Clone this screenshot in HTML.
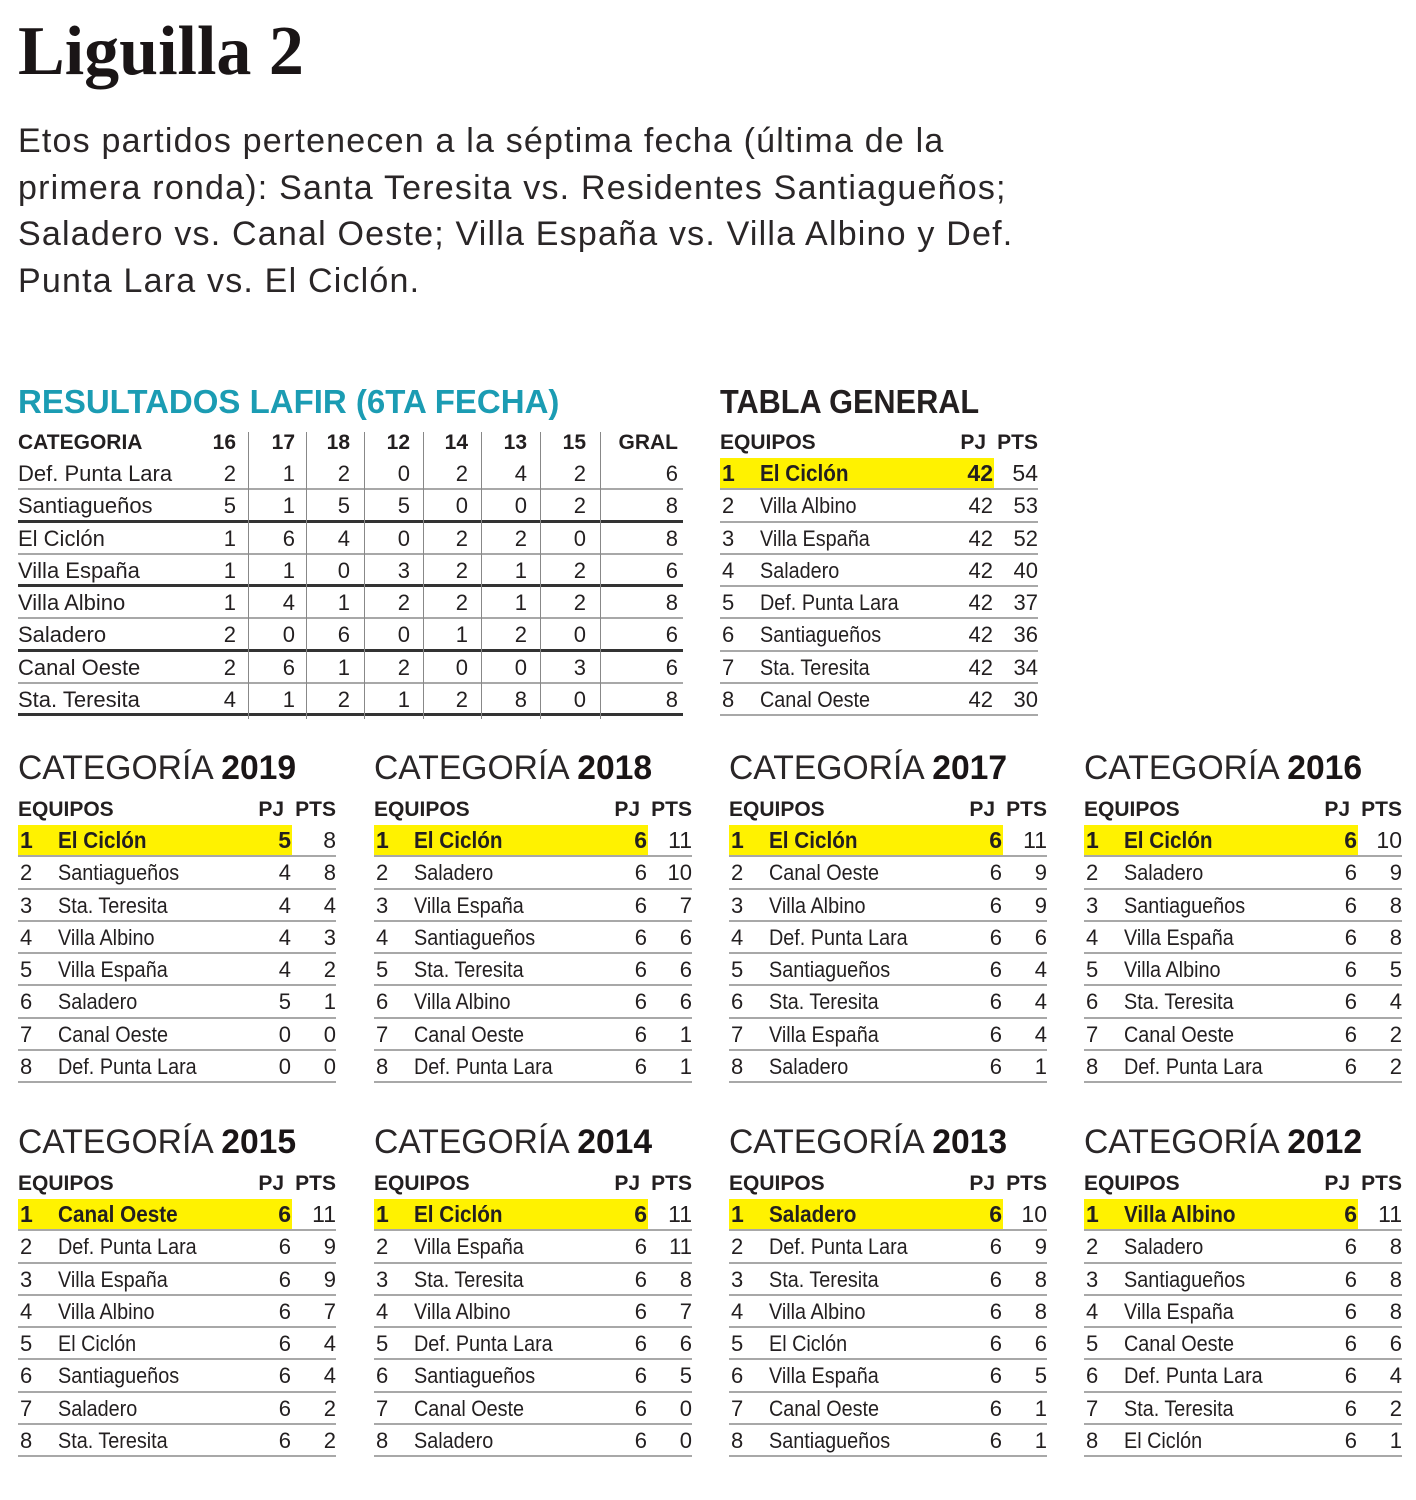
<!DOCTYPE html>
<html><head><meta charset="utf-8">
<style>
body{margin:0;width:1416px;height:1500px;background:#fff;position:relative;overflow:hidden;font-family:"Liberation Sans",sans-serif;color:#231f20}
h1{position:absolute;left:18px;top:12px;margin:0;font-family:"Liberation Serif",serif;font-weight:bold;font-size:70px;letter-spacing:0px;color:#1a1516}
.p{position:absolute;left:18px;top:118px;font-size:34px;line-height:46.5px;letter-spacing:1.2px;color:#2a2627;white-space:nowrap}
.hd{position:absolute;font-weight:bold;font-size:33px;transform-origin:left center;white-space:nowrap;height:40px;line-height:40px}
.blk{position:absolute;width:318px}
.ct{position:absolute;left:0;top:-47px;height:40px;line-height:40px;font-size:34px;white-space:nowrap;transform:scaleX(.99);transform-origin:left center;color:#2a2627}
.ct b{font-weight:bold;color:#1a1516}
.h{position:relative;height:30px;line-height:30px;font-weight:bold;font-size:21px}
.h span,.r span{position:absolute;white-space:nowrap}
.r{position:relative;height:30.3px;line-height:31px;font-size:22px;border-bottom:2px solid #a8a8a8}
.r .n{left:2px}.r .nm{left:40px;transform:scaleX(.9);transform-origin:left center}
.pj{right:45px;text-align:right}.pt{right:0;text-align:right}
.hl{position:absolute;left:0;top:0;bottom:0;width:274px;background:#fff200}
.r.f{font-weight:bold;font-size:23px}
.res .r span{text-align:right}
.sep{position:absolute;width:1px;background:#888;top:432px;height:287px}
</style></head><body>
<h1>Liguilla 2</h1>
<div class="p">Etos partidos pertenecen a la séptima fecha (última de la<br>primera ronda): Santa Teresita vs. Residentes Santiagueños;<br>Saladero vs. Canal Oeste; Villa España vs. Villa Albino y Def.<br>Punta Lara vs. El Ciclón.</div>

<div class="hd" style="left:18px;top:382px;color:#1b9cb3;transform:scaleX(1)">RESULTADOS LAFIR (6TA FECHA)</div>
<div class="hd" style="left:720px;top:382px;transform:scaleX(.93)">TABLA GENERAL</div>

<!-- results -->
<div class="blk res" style="left:18px;top:428px;width:665px">
<div class="h"><span style="left:0">CATEGORIA</span><span style="right:447px">16</span><span style="right:388px">17</span><span style="right:333px">18</span><span style="right:273px">12</span><span style="right:215px">14</span><span style="right:156px">13</span><span style="right:97px">15</span><span style="right:5px">GRAL</span></div>
<div class="r"><span style="left:0">Def. Punta Lara</span><span style="right:447px">2</span><span style="right:388px">1</span><span style="right:333px">2</span><span style="right:273px">0</span><span style="right:215px">2</span><span style="right:156px">4</span><span style="right:97px">2</span><span style="right:5px">6</span></div>
<div class="r" style="border-bottom:3px solid #333;height:29.3px"><span style="left:0">Santiagueños</span><span style="right:447px">5</span><span style="right:388px">1</span><span style="right:333px">5</span><span style="right:273px">5</span><span style="right:215px">0</span><span style="right:156px">0</span><span style="right:97px">2</span><span style="right:5px">8</span></div>
<div class="r"><span style="left:0">El Ciclón</span><span style="right:447px">1</span><span style="right:388px">6</span><span style="right:333px">4</span><span style="right:273px">0</span><span style="right:215px">2</span><span style="right:156px">2</span><span style="right:97px">0</span><span style="right:5px">8</span></div>
<div class="r" style="border-bottom:3px solid #333;height:29.3px"><span style="left:0">Villa España</span><span style="right:447px">1</span><span style="right:388px">1</span><span style="right:333px">0</span><span style="right:273px">3</span><span style="right:215px">2</span><span style="right:156px">1</span><span style="right:97px">2</span><span style="right:5px">6</span></div>
<div class="r"><span style="left:0">Villa Albino</span><span style="right:447px">1</span><span style="right:388px">4</span><span style="right:333px">1</span><span style="right:273px">2</span><span style="right:215px">2</span><span style="right:156px">1</span><span style="right:97px">2</span><span style="right:5px">8</span></div>
<div class="r" style="border-bottom:3px solid #333;height:29.3px"><span style="left:0">Saladero</span><span style="right:447px">2</span><span style="right:388px">0</span><span style="right:333px">6</span><span style="right:273px">0</span><span style="right:215px">1</span><span style="right:156px">2</span><span style="right:97px">0</span><span style="right:5px">6</span></div>
<div class="r"><span style="left:0">Canal Oeste</span><span style="right:447px">2</span><span style="right:388px">6</span><span style="right:333px">1</span><span style="right:273px">2</span><span style="right:215px">0</span><span style="right:156px">0</span><span style="right:97px">3</span><span style="right:5px">6</span></div>
<div class="r" style="border-bottom:3px solid #333;height:29.3px"><span style="left:0">Sta. Teresita</span><span style="right:447px">4</span><span style="right:388px">1</span><span style="right:333px">2</span><span style="right:273px">1</span><span style="right:215px">2</span><span style="right:156px">8</span><span style="right:97px">0</span><span style="right:5px">8</span></div>
</div>
<div class="sep" style="left:248px"></div><div class="sep" style="left:306px"></div><div class="sep" style="left:364px"></div><div class="sep" style="left:423px"></div><div class="sep" style="left:481px"></div><div class="sep" style="left:540px"></div><div class="sep" style="left:600px"></div>

<!-- tabla general -->
<div class="blk" style="left:720px;top:428px">
<div class="h"><span style="left:0">EQUIPOS</span><span class="pj" style="right:52px">PJ</span><span class="pt">PTS</span></div>
<div class="r f"><div class="hl"></div><span class="n">1</span><span class="nm">El Ciclón</span><span class="pj">42</span><span class="pt" style="font-weight:normal">54</span></div>
<div class="r"><span class="n">2</span><span class="nm">Villa Albino</span><span class="pj">42</span><span class="pt">53</span></div>
<div class="r"><span class="n">3</span><span class="nm">Villa España</span><span class="pj">42</span><span class="pt">52</span></div>
<div class="r"><span class="n">4</span><span class="nm">Saladero</span><span class="pj">42</span><span class="pt">40</span></div>
<div class="r"><span class="n">5</span><span class="nm">Def. Punta Lara</span><span class="pj">42</span><span class="pt">37</span></div>
<div class="r"><span class="n">6</span><span class="nm">Santiagueños</span><span class="pj">42</span><span class="pt">36</span></div>
<div class="r"><span class="n">7</span><span class="nm">Sta. Teresita</span><span class="pj">42</span><span class="pt">34</span></div>
<div class="r"><span class="n">8</span><span class="nm">Canal Oeste</span><span class="pj">42</span><span class="pt">30</span></div>
</div>

<!-- 2019 -->
<div class="blk" style="left:18px;top:795px"><div class="ct">CATEGORÍA <b>2019</b></div>
<div class="h"><span style="left:0">EQUIPOS</span><span style="right:52px">PJ</span><span style="right:0">PTS</span></div>
<div class="r f"><div class="hl"></div><span class="n">1</span><span class="nm">El Ciclón</span><span class="pj">5</span><span class="pt" style="font-weight:normal">8</span></div>
<div class="r"><span class="n">2</span><span class="nm">Santiagueños</span><span class="pj">4</span><span class="pt">8</span></div>
<div class="r"><span class="n">3</span><span class="nm">Sta. Teresita</span><span class="pj">4</span><span class="pt">4</span></div>
<div class="r"><span class="n">4</span><span class="nm">Villa Albino</span><span class="pj">4</span><span class="pt">3</span></div>
<div class="r"><span class="n">5</span><span class="nm">Villa España</span><span class="pj">4</span><span class="pt">2</span></div>
<div class="r"><span class="n">6</span><span class="nm">Saladero</span><span class="pj">5</span><span class="pt">1</span></div>
<div class="r"><span class="n">7</span><span class="nm">Canal Oeste</span><span class="pj">0</span><span class="pt">0</span></div>
<div class="r"><span class="n">8</span><span class="nm">Def. Punta Lara</span><span class="pj">0</span><span class="pt">0</span></div>
</div>

<!-- 2018 -->
<div class="blk" style="left:374px;top:795px"><div class="ct">CATEGORÍA <b>2018</b></div>
<div class="h"><span style="left:0">EQUIPOS</span><span style="right:52px">PJ</span><span style="right:0">PTS</span></div>
<div class="r f"><div class="hl"></div><span class="n">1</span><span class="nm">El Ciclón</span><span class="pj">6</span><span class="pt" style="font-weight:normal">11</span></div>
<div class="r"><span class="n">2</span><span class="nm">Saladero</span><span class="pj">6</span><span class="pt">10</span></div>
<div class="r"><span class="n">3</span><span class="nm">Villa España</span><span class="pj">6</span><span class="pt">7</span></div>
<div class="r"><span class="n">4</span><span class="nm">Santiagueños</span><span class="pj">6</span><span class="pt">6</span></div>
<div class="r"><span class="n">5</span><span class="nm">Sta. Teresita</span><span class="pj">6</span><span class="pt">6</span></div>
<div class="r"><span class="n">6</span><span class="nm">Villa Albino</span><span class="pj">6</span><span class="pt">6</span></div>
<div class="r"><span class="n">7</span><span class="nm">Canal Oeste</span><span class="pj">6</span><span class="pt">1</span></div>
<div class="r"><span class="n">8</span><span class="nm">Def. Punta Lara</span><span class="pj">6</span><span class="pt">1</span></div>
</div>

<!-- 2017 -->
<div class="blk" style="left:729px;top:795px"><div class="ct">CATEGORÍA <b>2017</b></div>
<div class="h"><span style="left:0">EQUIPOS</span><span style="right:52px">PJ</span><span style="right:0">PTS</span></div>
<div class="r f"><div class="hl"></div><span class="n">1</span><span class="nm">El Ciclón</span><span class="pj">6</span><span class="pt" style="font-weight:normal">11</span></div>
<div class="r"><span class="n">2</span><span class="nm">Canal Oeste</span><span class="pj">6</span><span class="pt">9</span></div>
<div class="r"><span class="n">3</span><span class="nm">Villa Albino</span><span class="pj">6</span><span class="pt">9</span></div>
<div class="r"><span class="n">4</span><span class="nm">Def. Punta Lara</span><span class="pj">6</span><span class="pt">6</span></div>
<div class="r"><span class="n">5</span><span class="nm">Santiagueños</span><span class="pj">6</span><span class="pt">4</span></div>
<div class="r"><span class="n">6</span><span class="nm">Sta. Teresita</span><span class="pj">6</span><span class="pt">4</span></div>
<div class="r"><span class="n">7</span><span class="nm">Villa España</span><span class="pj">6</span><span class="pt">4</span></div>
<div class="r"><span class="n">8</span><span class="nm">Saladero</span><span class="pj">6</span><span class="pt">1</span></div>
</div>

<!-- 2016 -->
<div class="blk" style="left:1084px;top:795px"><div class="ct">CATEGORÍA <b>2016</b></div>
<div class="h"><span style="left:0">EQUIPOS</span><span style="right:52px">PJ</span><span style="right:0">PTS</span></div>
<div class="r f"><div class="hl"></div><span class="n">1</span><span class="nm">El Ciclón</span><span class="pj">6</span><span class="pt" style="font-weight:normal">10</span></div>
<div class="r"><span class="n">2</span><span class="nm">Saladero</span><span class="pj">6</span><span class="pt">9</span></div>
<div class="r"><span class="n">3</span><span class="nm">Santiagueños</span><span class="pj">6</span><span class="pt">8</span></div>
<div class="r"><span class="n">4</span><span class="nm">Villa España</span><span class="pj">6</span><span class="pt">8</span></div>
<div class="r"><span class="n">5</span><span class="nm">Villa Albino</span><span class="pj">6</span><span class="pt">5</span></div>
<div class="r"><span class="n">6</span><span class="nm">Sta. Teresita</span><span class="pj">6</span><span class="pt">4</span></div>
<div class="r"><span class="n">7</span><span class="nm">Canal Oeste</span><span class="pj">6</span><span class="pt">2</span></div>
<div class="r"><span class="n">8</span><span class="nm">Def. Punta Lara</span><span class="pj">6</span><span class="pt">2</span></div>
</div>

<!-- 2015 -->
<div class="blk" style="left:18px;top:1169px"><div class="ct">CATEGORÍA <b>2015</b></div>
<div class="h"><span style="left:0">EQUIPOS</span><span style="right:52px">PJ</span><span style="right:0">PTS</span></div>
<div class="r f"><div class="hl"></div><span class="n">1</span><span class="nm">Canal Oeste</span><span class="pj">6</span><span class="pt" style="font-weight:normal">11</span></div>
<div class="r"><span class="n">2</span><span class="nm">Def. Punta Lara</span><span class="pj">6</span><span class="pt">9</span></div>
<div class="r"><span class="n">3</span><span class="nm">Villa España</span><span class="pj">6</span><span class="pt">9</span></div>
<div class="r"><span class="n">4</span><span class="nm">Villa Albino</span><span class="pj">6</span><span class="pt">7</span></div>
<div class="r"><span class="n">5</span><span class="nm">El Ciclón</span><span class="pj">6</span><span class="pt">4</span></div>
<div class="r"><span class="n">6</span><span class="nm">Santiagueños</span><span class="pj">6</span><span class="pt">4</span></div>
<div class="r"><span class="n">7</span><span class="nm">Saladero</span><span class="pj">6</span><span class="pt">2</span></div>
<div class="r"><span class="n">8</span><span class="nm">Sta. Teresita</span><span class="pj">6</span><span class="pt">2</span></div>
</div>

<!-- 2014 -->
<div class="blk" style="left:374px;top:1169px"><div class="ct">CATEGORÍA <b>2014</b></div>
<div class="h"><span style="left:0">EQUIPOS</span><span style="right:52px">PJ</span><span style="right:0">PTS</span></div>
<div class="r f"><div class="hl"></div><span class="n">1</span><span class="nm">El Ciclón</span><span class="pj">6</span><span class="pt" style="font-weight:normal">11</span></div>
<div class="r"><span class="n">2</span><span class="nm">Villa España</span><span class="pj">6</span><span class="pt">11</span></div>
<div class="r"><span class="n">3</span><span class="nm">Sta. Teresita</span><span class="pj">6</span><span class="pt">8</span></div>
<div class="r"><span class="n">4</span><span class="nm">Villa Albino</span><span class="pj">6</span><span class="pt">7</span></div>
<div class="r"><span class="n">5</span><span class="nm">Def. Punta Lara</span><span class="pj">6</span><span class="pt">6</span></div>
<div class="r"><span class="n">6</span><span class="nm">Santiagueños</span><span class="pj">6</span><span class="pt">5</span></div>
<div class="r"><span class="n">7</span><span class="nm">Canal Oeste</span><span class="pj">6</span><span class="pt">0</span></div>
<div class="r"><span class="n">8</span><span class="nm">Saladero</span><span class="pj">6</span><span class="pt">0</span></div>
</div>

<!-- 2013 -->
<div class="blk" style="left:729px;top:1169px"><div class="ct">CATEGORÍA <b>2013</b></div>
<div class="h"><span style="left:0">EQUIPOS</span><span style="right:52px">PJ</span><span style="right:0">PTS</span></div>
<div class="r f"><div class="hl"></div><span class="n">1</span><span class="nm">Saladero</span><span class="pj">6</span><span class="pt" style="font-weight:normal">10</span></div>
<div class="r"><span class="n">2</span><span class="nm">Def. Punta Lara</span><span class="pj">6</span><span class="pt">9</span></div>
<div class="r"><span class="n">3</span><span class="nm">Sta. Teresita</span><span class="pj">6</span><span class="pt">8</span></div>
<div class="r"><span class="n">4</span><span class="nm">Villa Albino</span><span class="pj">6</span><span class="pt">8</span></div>
<div class="r"><span class="n">5</span><span class="nm">El Ciclón</span><span class="pj">6</span><span class="pt">6</span></div>
<div class="r"><span class="n">6</span><span class="nm">Villa España</span><span class="pj">6</span><span class="pt">5</span></div>
<div class="r"><span class="n">7</span><span class="nm">Canal Oeste</span><span class="pj">6</span><span class="pt">1</span></div>
<div class="r"><span class="n">8</span><span class="nm">Santiagueños</span><span class="pj">6</span><span class="pt">1</span></div>
</div>

<!-- 2012 -->
<div class="blk" style="left:1084px;top:1169px"><div class="ct">CATEGORÍA <b>2012</b></div>
<div class="h"><span style="left:0">EQUIPOS</span><span style="right:52px">PJ</span><span style="right:0">PTS</span></div>
<div class="r f"><div class="hl"></div><span class="n">1</span><span class="nm">Villa Albino</span><span class="pj">6</span><span class="pt" style="font-weight:normal">11</span></div>
<div class="r"><span class="n">2</span><span class="nm">Saladero</span><span class="pj">6</span><span class="pt">8</span></div>
<div class="r"><span class="n">3</span><span class="nm">Santiagueños</span><span class="pj">6</span><span class="pt">8</span></div>
<div class="r"><span class="n">4</span><span class="nm">Villa España</span><span class="pj">6</span><span class="pt">8</span></div>
<div class="r"><span class="n">5</span><span class="nm">Canal Oeste</span><span class="pj">6</span><span class="pt">6</span></div>
<div class="r"><span class="n">6</span><span class="nm">Def. Punta Lara</span><span class="pj">6</span><span class="pt">4</span></div>
<div class="r"><span class="n">7</span><span class="nm">Sta. Teresita</span><span class="pj">6</span><span class="pt">2</span></div>
<div class="r"><span class="n">8</span><span class="nm">El Ciclón</span><span class="pj">6</span><span class="pt">1</span></div>
</div>
</body></html>
